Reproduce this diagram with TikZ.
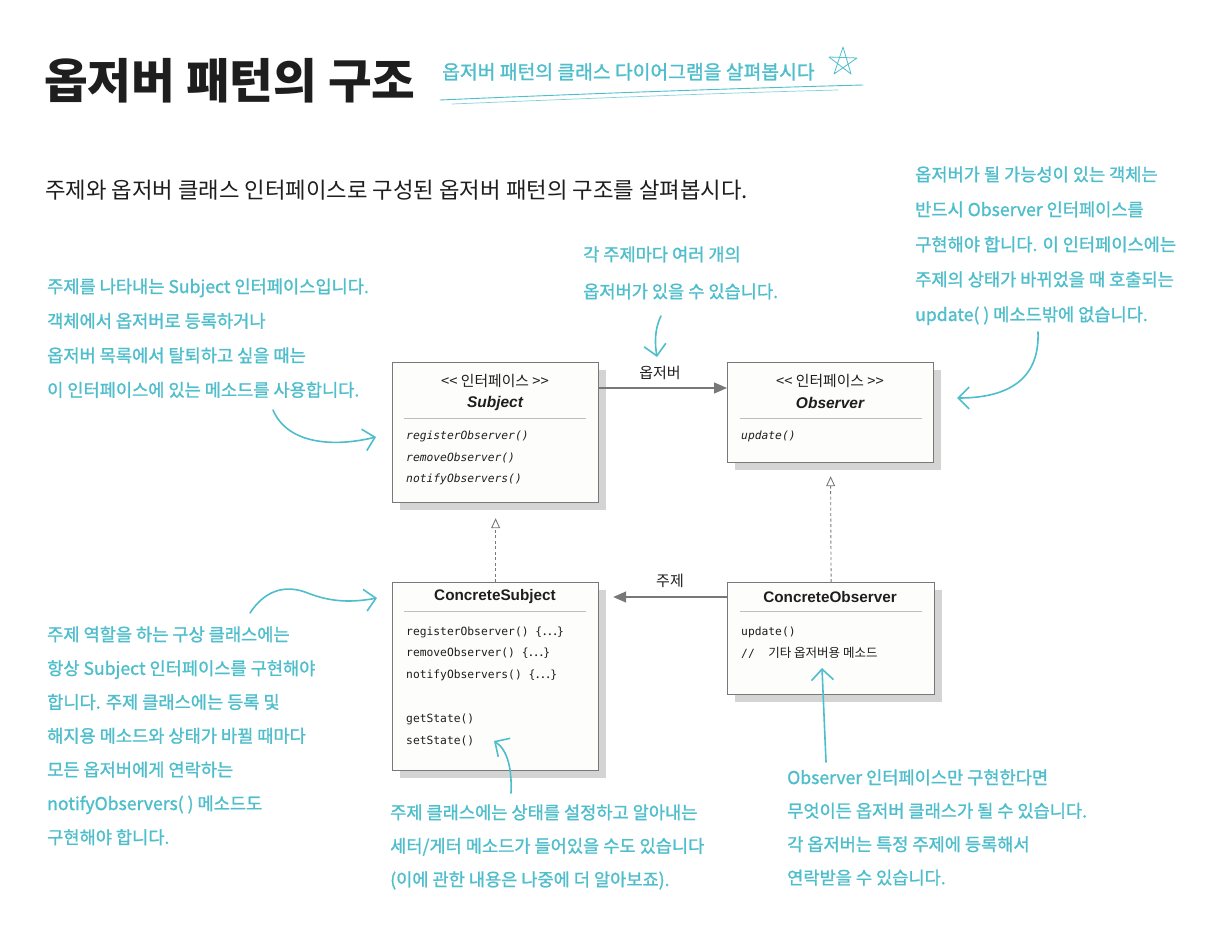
\documentclass[tikz,border=0pt]{standalone}
\usepackage{fontspec}
\setmainfont{Liberation Sans}
\newfontfamily\kr{Noto Sans CJK KR}
\newfontfamily\krh{Noto Sans CJK KR}[FakeBold=1.2]
\newfontfamily\mono{DejaVu Sans Mono}
\usetikzlibrary{arrows.meta,shadows}
\definecolor{teal1}{RGB}{78,190,204}
\definecolor{boxgray}{RGB}{120,120,120}
\definecolor{boxfill}{RGB}{253,253,251}
\definecolor{shadowgray}{RGB}{212,212,212}
\definecolor{sepgray}{RGB}{190,190,190}
\definecolor{ink}{RGB}{30,30,30}
\begin{document}
\begin{tikzpicture}[x=1pt,y=-1pt,
  umlbox/.style={draw=boxgray, line width=1.2pt, fill=boxfill, anchor=north west,
    drop shadow={shadow xshift=7pt, shadow yshift=-7pt, fill=shadowgray, opacity=1}},
  hdr/.style={inner sep=0pt, text=ink, font=\kr\fontsize{14.8}{14.8}\selectfont},
  cname/.style={inner sep=0pt, text=ink, font=\bfseries\itshape\fontsize{15.5}{15.5}\selectfont},
  ccname/.style={inner sep=0pt, text=ink, font=\bfseries\fontsize{15.3}{15.3}\selectfont},
  meth/.style={anchor=west, inner sep=0pt, text=ink, font=\mono\itshape\fontsize{11.3}{11.3}\selectfont},
  cmeth/.style={anchor=west, inner sep=0pt, text=ink, font=\mono\fontsize{11.3}{11.3}\selectfont},
  sep/.style={draw=sepgray, line width=0.9pt},
  umlarrow/.style={draw=boxgray, line width=1.4pt, -{Triangle[length=13pt,width=11pt,fill=boxgray]}},
  realize/.style={draw=boxgray, line width=0.9pt, dash pattern=on 3pt off 2.5pt, -{Triangle[open,length=10pt,width=9pt,fill=white]}},
  alabel/.style={inner sep=0pt, text=ink, font=\kr\fontsize{15}{15}\selectfont},
  note/.style={anchor=base west, inner sep=0pt, align=left, text=teal1},
  hand/.style={draw=teal1, line width=1.6pt, line cap=round, -{Straight Barb[length=11pt,width=22pt,line width=1.6pt]}}
]
\useasboundingbox[fill=white] (0,0) rectangle (1206,926);

% title
\node[anchor=base west, inner sep=0pt, text=ink, font=\kr\bfseries\fontsize{47.5}{47.5}\selectfont] (title) at (44,98) {옵저버 패턴의 구조};
\node[anchor=base west, inner sep=0pt, text=teal1, font=\krh\fontsize{19.3}{19.3}\selectfont] (subtitle) at (442,79) {옵저버 패턴의 클래스 다이어그램을 살펴봅시다};
\draw[teal1, line width=0.9pt, line cap=round] (440,100) .. controls (600,93) and (750,88) .. (863,85);
\draw[teal1!70, line width=0.7pt, line cap=round] (452,104) .. controls (600,98) and (720,93) .. (838,90);
\draw[teal1, line width=0.8pt, line join=round] (843,47) -- (851,74) -- (829,57) -- (857,58) -- (834,74) -- cycle;

% intro
\node[anchor=base west, inner sep=0pt, text=ink, font=\kr\fontsize{22.3}{22.3}\selectfont] (intro) at (45,198) {주제와 옵저버 클래스 인터페이스로 구성된 옵저버 패턴의 구조를 살펴봅시다.};

% boxes
\node[umlbox, minimum width=206pt, minimum height=140pt] (subj) at (392,362) {};
\node[umlbox, minimum width=206pt, minimum height=100pt] (obs) at (727,362) {};
\node[umlbox, minimum width=206pt, minimum height=188pt] (csubj) at (392,582) {};
\node[umlbox, minimum width=207pt, minimum height=112pt] (cobs) at (727,582) {};

% Subject contents
\node[hdr] (subjst) at (495,381) {<<~인터페이스~>>};
\node[cname] (subjname) at (495,403) {Subject};
\draw[sep] (404,418) -- (586,418);
\node[meth] (sm1) at (406,436) {registerObserver()};
\node[meth] (sm2) at (406,457.5) {removeObserver()};
\node[meth] (sm3) at (406,479) {notifyObservers()};

% Observer contents
\node[hdr] (obsst) at (830,381) {<<~인터페이스~>>};
\node[cname] (obsname) at (830,403) {Observer};
\draw[sep] (740,418) -- (922,418);
\node[meth] (om1) at (741,436) {update()};

% ConcreteSubject contents
\node[ccname] (csname) at (495,597) {ConcreteSubject};
\draw[sep] (404,611) -- (586,611);
\node[cmeth] (cs1) at (406,632) {registerObserver() \{{\kr\fontsize{14}{14}\selectfont ⋯}\}};
\node[cmeth] (cs2) at (406,653.5) {removeObserver() \{{\kr\fontsize{14}{14}\selectfont ⋯}\}};
\node[cmeth] (cs3) at (406,675.5) {notifyObservers() \{{\kr\fontsize{14}{14}\selectfont ⋯}\}};
\node[cmeth] (cs4) at (406,719) {getState()};
\node[cmeth] (cs5) at (406,741) {setState()};

% ConcreteObserver contents
\node[ccname] (coname) at (830,597) {ConcreteObserver};
\draw[sep] (740,611) -- (922,611);
\node[cmeth] (co1) at (741,632) {update()};
\node[cmeth] (co2) at (741,653) {//~~{\kr\fontsize{12.5}{12.5}\selectfont 기타 옵저버용 메소드}};

% UML connectors
\draw[umlarrow] ([yshift=-26pt]subj.north east) -- ([yshift=-26pt]obs.north west);
\node[alabel] (lobs) at (660,373) {옵저버};
\draw[umlarrow] ([yshift=-15pt]cobs.north west) -- ([yshift=-15pt,xshift=14pt]csubj.north east);
\node[alabel] (lsubj) at (670,581) {주제};
\draw[realize] (csubj.north) -- ([yshift=-15pt]subj.south);
\draw[realize] (cobs.north) -- ([yshift=-13pt]obs.south);

% notes (anchor = baseline of the last line)
\node[note, font=\krh\fontsize{17.6}{34.5}\selectfont] (n1) at (47,396.5) {주제를 나타내는 Subject 인터페이스입니다.\\객체에서 옵저버로 등록하거나\\옵저버 목록에서 탈퇴하고 싶을 때는\\이 인터페이스에 있는 메소드를 사용합니다.};
\node[note, font=\krh\fontsize{17.6}{37}\selectfont] (n2) at (583,298) {각 주제마다 여러 개의\\옵저버가 있을 수 있습니다.};
\node[note, font=\krh\fontsize{17.6}{35}\selectfont] (n3) at (915,321) {옵저버가 될 가능성이 있는 객체는\\반드시 Observer 인터페이스를\\구현해야 합니다. 이 인터페이스에는\\주제의 상태가 바뀌었을 때 호출되는\\update( ) 메소드밖에 없습니다.};
\node[note, font=\krh\fontsize{17.6}{33.8}\selectfont] (n4) at (47,843.8) {주제 역할을 하는 구상 클래스에는\\항상 Subject 인터페이스를 구현해야\\합니다. 주제 클래스에는 등록 및\\해지용 메소드와 상태가 바뀔 때마다\\모든 옵저버에게 연락하는\\notifyObservers( ) 메소드도\\구현해야 합니다.};
\node[note, font=\krh\fontsize{17.6}{33.5}\selectfont] (n5) at (390,886) {주제 클래스에는 상태를 설정하고 알아내는\\세터/게터 메소드가 들어있을 수도 있습니다\\(이에 관한 내용은 나중에 더 알아보죠).};
\node[note, font=\krh\fontsize{17.6}{33.4}\selectfont] (n6) at (787,884.2) {Observer 인터페이스만 구현한다면\\무엇이든 옵저버 클래스가 될 수 있습니다.\\각 옵저버는 특정 주제에 등록해서\\연락받을 수 있습니다.};

% hand-drawn arrows
\coordinate (t1a) at (273,410); \coordinate (t1b) at (376,437);
\draw[hand] (t1a) .. controls (288,445) and (335,447) .. (t1b);
\coordinate (t2a) at (661,316); \coordinate (t2b) at (657,357);
\draw[hand] (t2a) .. controls (654,330) and (655,345) .. (t2b);
\coordinate (t3a) at (1038,332); \coordinate (t3b) at (957,398);
\draw[hand] (t3a) .. controls (1040,385) and (1000,398) .. (t3b);
\coordinate (t4a) at (250,613); \coordinate (t4b) at (377,598);
\draw[hand] (t4a) .. controls (265,590) and (285,585) .. (305,592) .. controls (325,600) and (345,604) .. (t4b);
\coordinate (t5a) at (511,793); \coordinate (t5b) at (494,741);
\draw[hand] (t5a) .. controls (512,770) and (508,750) .. (t5b);
\coordinate (t6a) at (826,762); \coordinate (t6b) at (822,668);
\draw[hand] (t6a) -- (t6b);
\end{tikzpicture}
\end{document}
